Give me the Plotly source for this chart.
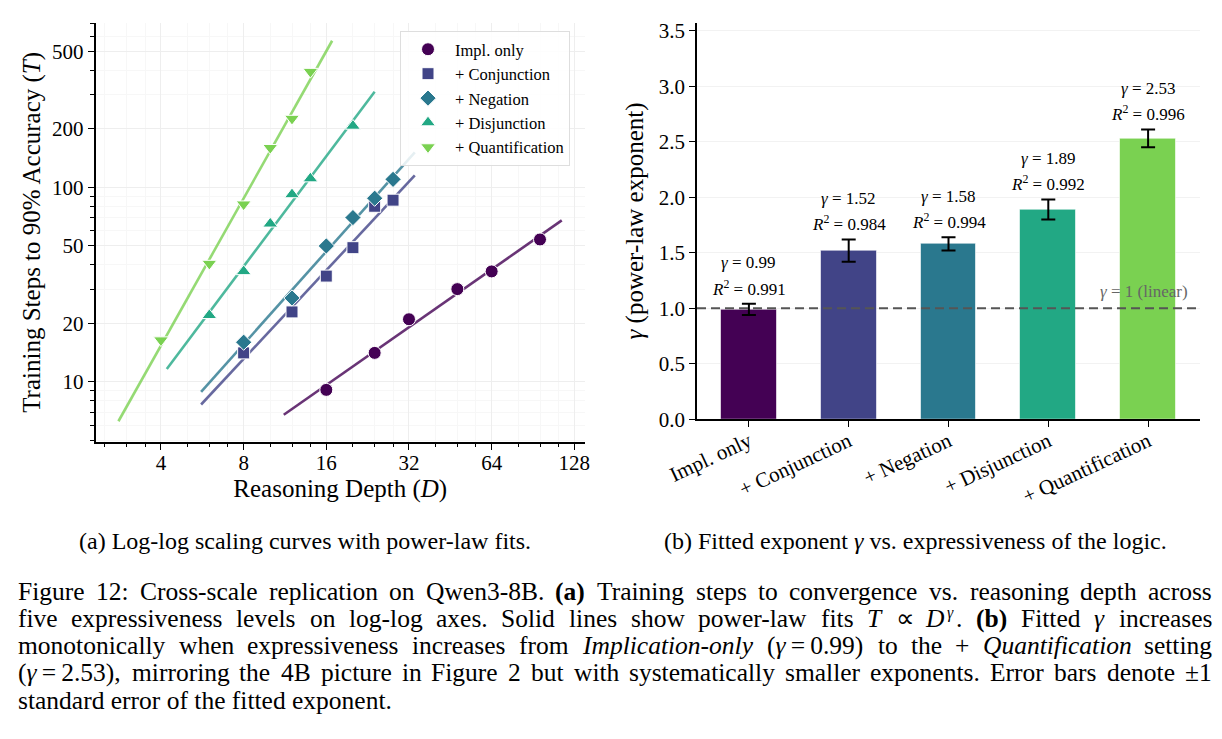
import re
import numpy as np
import plotly.graph_objects as go

# ---------------- data ----------------
series_names = ["Impl. only", "+ Conjunction", "+ Negation", "+ Disjunction", "+ Quantification"]
depth_impl = [16, 24, 32, 48, 64, 96]
steps_impl = [9.1, 14.1, 21.0, 30.0, 37.0, 54.0]
depth_conj = [8, 12, 16, 20, 24, 28]
steps_conj = [14.1, 22.9, 35.0, 49.0, 80.0, 86.0]
depth_neg = [8, 12, 16, 20, 24, 28]
steps_neg = [16.0, 27.0, 50.0, 70.0, 88.0, 110.0]
depth_disj = [6, 8, 10, 12, 14, 20]
steps_disj = [22.0, 37.0, 65.0, 92.0, 111.0, 207.0]
depth_quant = [4, 6, 8, 10, 12, 14]
steps_quant = [16.4, 40.6, 82.0, 160.0, 226.0, 394.0]

bar_labels = ["Impl. only", "+ Conjunction", "+ Negation", "+ Disjunction", "+ Quantification"]
gamma_values = [0.99, 1.52, 1.58, 1.89, 2.53]
gamma_errors = [0.05, 0.10, 0.06, 0.09, 0.08]
r2_values = [0.991, 0.984, 0.994, 0.992, 0.996]

x_ticks_left = [4, 8, 16, 32, 64, 128]
x_minor_left = [2.5, 3, 3.5, 5, 6, 7, 10, 12, 14, 20, 24, 28, 40, 48, 56, 80, 96, 112]
y_ticks_left = [10, 20, 50, 100, 200, 500]
y_minor_left = [5, 6, 7, 8, 9, 30, 40, 60, 70, 80, 90, 300, 400, 600, 700]
y_ticks_right = [0.0, 0.5, 1.0, 1.5, 2.0, 2.5, 3.0, 3.5]

colors = ["#440154", "#414487", "#2a788e", "#22a884", "#7ad151"]
symbols = ["circle", "square", "diamond", "triangle-up", "triangle-down"]
msizes = [13, 12, 12.5, 13, 13]

W, H = 1222, 739
FONT = "Liberation Serif, Times New Roman, Times, serif"


def hex_rgba(h, a):
    h = h.lstrip("#")
    return "rgba(%d,%d,%d,%.2f)" % (int(h[0:2], 16), int(h[2:4], 16), int(h[4:6], 16), a)


# Times-Roman advance widths (per 1000 em) for caption justification
_TW = {" ": 250, "!": 333, "%": 833, "(": 333, ")": 333, "+": 564, ",": 250, "-": 333,
       ".": 250, ":": 278, ";": 278, "=": 564, "?": 444, "±": 564, "γ": 430, "∝": 620,
       "\u2009": 200}
for ch in "0123456789":
    _TW[ch] = 500
_TW.update(dict(zip("ABCDEFGHIJKLMNOPQRSTUVWXYZ",
                    [722, 667, 667, 722, 611, 556, 722, 722, 333, 389, 722, 611, 889, 722, 722,
                     556, 722, 667, 556, 611, 722, 722, 944, 722, 722, 611])))
_TW.update(dict(zip("abcdefghijklmnopqrstuvwxyz",
                    [444, 500, 444, 500, 444, 333, 500, 500, 278, 278, 500, 278, 778, 500, 500,
                     500, 500, 333, 389, 278, 500, 500, 722, 500, 500, 444])))


def markup_width(s, size):
    w = 0.0
    bold = False
    for tok in re.split(r"(<[^>]+>)", s):
        if tok.startswith("<"):
            t = tok.lower()
            if t == "<b>":
                bold = True
            elif t == "</b>":
                bold = False
            continue
        for ch in tok:
            cw = _TW.get(ch, 500) / 1000.0 * size
            if bold:
                cw *= 1.06
            w += cw
    return w


fig = go.Figure()

all_depths = [depth_impl, depth_conj, depth_neg, depth_disj, depth_quant]
all_steps = [steps_impl, steps_conj, steps_neg, steps_disj, steps_quant]

# power-law fit lines
for i, (d, s) in enumerate(zip(all_depths, all_steps)):
    g, c = np.polyfit(np.log(d), np.log(s), 1)
    xs = np.array([min(d) * 0.7, max(d) * 1.2])
    ys = np.exp(c) * xs ** g
    fig.add_trace(go.Scatter(x=xs, y=ys, mode="lines", showlegend=False,
                             line=dict(color=hex_rgba(colors[i], 0.8), width=2.6),
                             xaxis="x", yaxis="y", hoverinfo="skip"))

# data markers
for i, (d, s) in enumerate(zip(all_depths, all_steps)):
    fig.add_trace(go.Scatter(x=d, y=s, mode="markers", name=series_names[i],
                             marker=dict(symbol=symbols[i], size=msizes[i], color=colors[i],
                                         line=dict(color="white", width=1)),
                             xaxis="x", yaxis="y"))

# bars
fig.add_trace(go.Bar(x=bar_labels, y=gamma_values, width=0.56,
                     marker=dict(color=colors, line=dict(color="rgba(255,255,255,0.6)", width=1)),
                     error_y=dict(type="data", array=gamma_errors, color="black", thickness=2, width=7),
                     xaxis="x2", yaxis="y2", showlegend=False))

lx0, lx1 = 95.5 / W, 585 / W
ly0, ly1 = 1 - 442 / H, 1 - 22.7 / H
rx0, rx1 = 697 / W, 1200 / W
ry0, ry1 = 1 - 419.3 / H, 1 - 22.7 / H

axis_font = dict(family=FONT, size=21, color="black")
title_font = dict(family=FONT, size=25, color="black")

fig.update_layout(
    width=W, height=H,
    margin=dict(l=0, r=0, t=0, b=0),
    paper_bgcolor="white", plot_bgcolor="white",
    font=dict(family=FONT, color="black"),
    bargap=0,
    xaxis=dict(domain=[lx0, lx1], anchor="y", type="log",
               range=[np.log10(2.31), np.log10(140)],
               tickmode="array", tickvals=x_ticks_left, ticktext=[str(v) for v in x_ticks_left],
               ticks="outside", ticklen=6, tickwidth=1.3, tickcolor="black",
               showline=True, linecolor="black", linewidth=1.6,
               showgrid=True, gridcolor="#eeeeee", gridwidth=1,
               minor=dict(tickvals=x_minor_left, ticks="outside", ticklen=3.5, tickwidth=1,
                          tickcolor="black", showgrid=True, gridcolor="#f7f7f7", gridwidth=1),
               tickfont=axis_font, automargin=False, zeroline=False, ticklabelstandoff=-5,
               title=dict(text="Reasoning Depth (<i>D</i>)", font=title_font, standoff=4)),
    yaxis=dict(domain=[ly0, ly1], anchor="x", type="log",
               range=[0.691, 2.847],
               tickmode="array", tickvals=y_ticks_left, ticktext=[str(v) for v in y_ticks_left],
               ticks="outside", ticklen=6, tickwidth=1.3, tickcolor="black",
               showline=True, linecolor="black", linewidth=1.6,
               showgrid=True, gridcolor="#eeeeee", gridwidth=1,
               minor=dict(tickvals=y_minor_left, ticks="outside", ticklen=3.5, tickwidth=1,
                          tickcolor="black", showgrid=True, gridcolor="#f7f7f7", gridwidth=1),
               tickfont=axis_font, automargin=False, zeroline=False,
               title=dict(text="Training Steps to 90% Accuracy (<i>T</i>)", font=title_font, standoff=4)),
    xaxis2=dict(domain=[rx0, rx1], anchor="y2", type="category",
                range=[-0.52, 4.52], categoryorder="array", categoryarray=bar_labels,
                ticks="outside", ticklen=6, tickwidth=1.3, tickcolor="black",
                showline=True, linecolor="black", linewidth=1.6, showgrid=False,
                tickangle=-25, tickfont=axis_font, automargin=False, ticklabelstandoff=-6),
    yaxis2=dict(domain=[ry0, ry1], anchor="x2", range=[0, 3.573],
                tickmode="array", tickvals=y_ticks_right,
                ticktext=["%.1f" % v for v in y_ticks_right],
                ticks="outside", ticklen=6, tickwidth=1.3, tickcolor="black",
                showline=True, linecolor="black", linewidth=1.6,
                showgrid=True, gridcolor="#f2f2f2", gridwidth=1, zeroline=False,
                tickfont=axis_font, automargin=False,
                title=dict(text="<i>γ</i> (power-law exponent)", font=title_font, standoff=8)),
    legend=dict(x=400 / W, y=1 - 31 / H, xanchor="left", yanchor="top",
                bgcolor="rgba(255,255,255,0.85)", bordercolor="#dedede", borderwidth=1,
                font=dict(family=FONT, size=16.5, color="black"), itemwidth=44,
                tracegroupgap=0),
)

fig.add_shape(type="line", xref="x2 domain", yref="y2", x0=0, x1=1, y0=1.0, y1=1.0,
              line=dict(color="#555555", width=2, dash="9px,5px"), layer="above")
fig.add_annotation(xref="x2", yref="y2", x=4.42, y=1.15, text="<i>γ</i> = 1 (linear)",
                   showarrow=False, xanchor="right", yanchor="middle",
                   font=dict(family=FONT, size=17, color="#666666"))

ann_font = dict(family=FONT, size=17, color="black")
for i, (g, e, r2) in enumerate(zip(gamma_values, gamma_errors, r2_values)):
    top = g + e
    fig.add_annotation(xref="x2", yref="y2", x=bar_labels[i], y=top + 0.37,
                       text="<i>γ</i> = %.2f" % g, showarrow=False, yanchor="middle",
                       font=ann_font)
    fig.add_annotation(xref="x2", yref="y2", x=bar_labels[i], y=top + 0.145,
                       text="<i>R</i><sup>2</sup> = %.3f" % r2, showarrow=False, yanchor="middle",
                       font=ann_font)

cap_font = dict(family=FONT, size=24, color="black")
fig.add_annotation(xref="paper", yref="paper", x=305 / W, y=1 - 541 / H,
                   text="(a) Log-log scaling curves with power-law fits.",
                   showarrow=False, xanchor="center", yanchor="middle", font=cap_font)
fig.add_annotation(xref="paper", yref="paper", x=915 / W, y=1 - 541 / H,
                   text="(b) Fitted exponent <i>γ</i> vs. expressiveness of the logic.",
                   showarrow=False, xanchor="center", yanchor="middle", font=cap_font)

# main caption: justified lines (a word may be a list of (markup, size factor, raise px, x nudge px) pieces)
CAP_SIZE = 25.5
caption_lines = [
    "Figure 12: Cross-scale replication on Qwen3-8B. <b>(a)</b> Training steps to convergence vs. reasoning depth across".split(" "),
    "five expressiveness levels on log-log axes. Solid lines show power-law fits <i>T</i> ∝".split(" ")
    + [[("<i>D</i>", 1.0, 0, 0), ("<i>γ</i>", 0.62, 5, 3), (".", 1.0, 0, 2)]]
    + "<b>(b)</b> Fitted <i>γ</i> increases".split(" "),
    "monotonically when expressiveness increases from <i>Implication-only</i> (<i>γ</i>\u2009=\u20090.99) to the + <i>Quantification</i> setting".split(" "),
    "(<i>γ</i>\u2009=\u20092.53), mirroring the 4B picture in Figure 2 but with systematically smaller exponents. Error bars denote ±1".split(" "),
    None,
]
last_line = "standard error of the fitted exponent."
caption_y = [591, 618, 645, 672, 700]
left_px, right_px = 18, 1212


def add_word_piece(xpx, ypx, markup, factor, lift):
    fig.add_annotation(xref="paper", yref="paper", x=xpx / W, y=1 - ypx / H, text=markup,
                       showarrow=False, xanchor="left", yanchor="middle", yshift=lift,
                       font=dict(family=FONT, size=CAP_SIZE * factor, color="black"),
                       borderpad=0, borderwidth=0)


for words, yy in zip(caption_lines, caption_y):
    if words is None:
        add_word_piece(left_px, yy, last_line, 1.0, 0)
        continue
    pieces_list = [[(w, 1.0, 0, 0)] if isinstance(w, str) else w for w in words]
    widths = [sum(markup_width(p, CAP_SIZE * f) + nx for p, f, _, nx in pcs) for pcs in pieces_list]
    gap = (right_px - left_px - sum(widths)) / (len(words) - 1)
    xpos = left_px
    for pcs, ww in zip(pieces_list, widths):
        xp = xpos
        for p, f, lift, nx in pcs:
            xp += nx
            add_word_piece(xp, yy, p, f, lift)
            xp += markup_width(p, CAP_SIZE * f)
        xpos += ww + gap

fig.write_html("out.html")
